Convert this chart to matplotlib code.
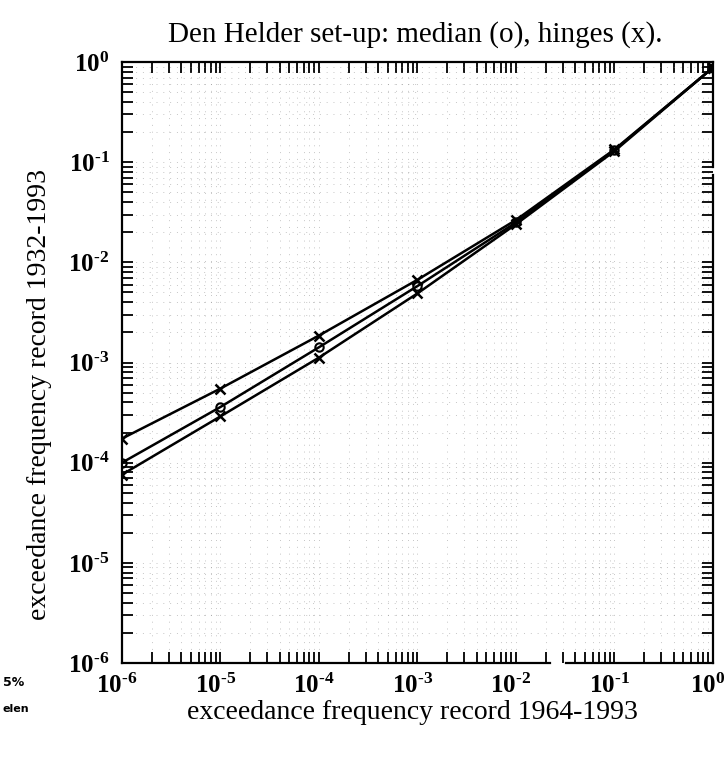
import numpy as np
import matplotlib
matplotlib.use("Agg")
import matplotlib.pyplot as plt
import matplotlib.ticker as mticker
import matplotlib.transforms as mtransforms

plt.rcParams['font.family'] = ['Liberation Serif', 'DejaVu Serif']
plt.rcParams['mathtext.fontset'] = 'custom'
plt.rcParams['mathtext.rm'] = 'Liberation Serif'
plt.rcParams['mathtext.bf'] = 'Liberation Serif:bold'

# exceedance frequencies, record 1964-1993 (x) vs 1932-1993 (y)
freq_short = [1e-6, 1e-5, 1e-4, 1e-3, 1e-2, 1e-1, 1e0]
hinge_upper = [1.74e-4, 5.5e-4, 1.86e-3, 6.7e-3, 2.65e-2, 0.134, 0.88]
median = [1.0e-4, 3.6e-4, 1.42e-3, 5.8e-3, 2.5e-2, 0.132, 0.88]
hinge_lower = [7.6e-5, 2.9e-4, 1.12e-3, 4.9e-3, 2.4e-2, 0.129, 0.88]

fig = plt.figure(figsize=(7.27, 7.58), dpi=100)
ax = fig.add_axes([0.1678, 0.1253, 0.8129, 0.7929])

ax.plot(freq_short, hinge_upper, color='k', lw=1.8, marker='x', ms=7, mew=1.8)
ax.plot(freq_short, median, color='k', lw=1.8, marker='o', ms=6, mew=1.5,
        mfc='none')
ax.plot(freq_short, hinge_lower, color='k', lw=1.8, marker='x', ms=7, mew=1.8)

ax.set_xscale('log')
ax.set_yscale('log')
ax.set_xlim(1e-6, 1e0)
ax.set_ylim(1e-6, 1e0)


def dec_label(v, pos):
    # short hyphen like the original typesetting, not a long minus
    return '$\\mathbf{10^{%s}}$' % str(int(round(np.log10(v)))).replace('-', '\u2010')


for axis in (ax.xaxis, ax.yaxis):
    axis.set_major_locator(mticker.LogLocator(base=10, numticks=20))
    axis.set_minor_locator(mticker.LogLocator(base=10, subs=np.arange(2, 10),
                                              numticks=20))
    axis.set_major_formatter(mticker.FuncFormatter(dec_label))

ax.grid(which='both', linestyle=(0, (1, 6)), color='0.5', lw=0.7, alpha=0.45)

ax.tick_params(which='both', direction='in', top=True, right=True,
               length=8, width=1.3, labelsize=18)
ax.tick_params(axis='x', pad=8)
ax.tick_params(axis='y', pad=9)

shift = mtransforms.ScaledTranslation(-5 / 100, 0, fig.dpi_scale_trans)
for lab in ax.get_xticklabels():
    lab.set_transform(lab.get_transform() + shift)

# broken bottom and right frame, as in the original drawing
for s in ('left', 'top'):
    ax.spines[s].set_linewidth(1.6)
ax.spines['bottom'].set_visible(False)
ax.spines['right'].set_visible(False)
xt = ax.get_xaxis_transform()
yt = ax.get_yaxis_transform()
ax.plot([1e-6, 0.0224], [0, 0], color='k', lw=1.6, transform=xt, clip_on=False)
ax.plot([0.032, 1e0], [0, 0], color='k', lw=1.6, transform=xt, clip_on=False)
ax.plot([1, 1], [1e-6, 0.074], color='k', lw=1.6, transform=yt, clip_on=False)
ax.plot([1, 1], [0.089, 1e0], color='k', lw=1.6, transform=yt, clip_on=False)

fig.text(0.571, 0.954, 'Den Helder set-up: median (o), hinges (x).',
         ha='center', va='center', fontsize=21)
fig.text(0.054, 0.480, 'exceedance frequency record 1932-1993',
         ha='center', va='center', rotation=90, fontsize=20)
fig.text(0.568, 0.060, 'exceedance frequency record 1964-1993',
         ha='center', va='center', fontsize=20)

# fragments of the neighbouring page in the scan
fig.text(0.004, 0.100, '5%', ha='left', va='center', fontsize=9,
         fontweight='bold', family=['DejaVu Sans'])
fig.text(0.004, 0.064, 'elen', ha='left', va='center', fontsize=8,
         fontweight='bold', family=['DejaVu Sans'])

fig.savefig('out.png', dpi=100)
